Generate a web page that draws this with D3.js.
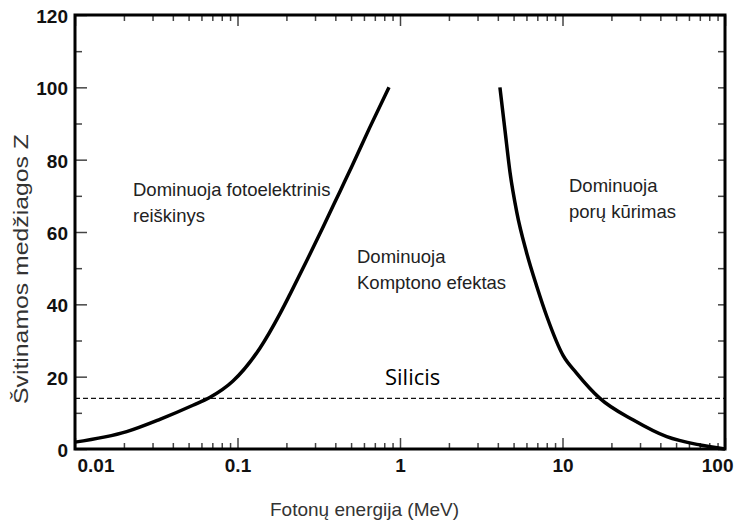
<!DOCTYPE html>
<html lang="lt">

<head>
    <meta charset="UTF-8">
    <title>Fotonų sąveika su medžiaga</title>
    <script src="https://cdn.jsdelivr.net/npm/d3@7"></script>
    <style>
        body { margin: 0; background: #fff; }
    </style>
</head>

<body>
    <div id="my_dataviz"></div>

    <script>
        // boundary: photoelectric effect vs Compton (energy MeV, Z)
        var photoE = [0.01, 0.0208, 0.0333, 0.0532, 0.0678, 0.0938, 0.137, 0.183, 0.211, 0.267, 0.338, 0.428, 0.505, 0.653, 0.855];
        var photoZ = [1.9, 4.8, 8.2, 12.1, 14.3, 18.8, 27.8, 37.5, 42.9, 52.1, 61.6, 71.3, 78.1, 89.0, 100];

        // boundary: Compton vs pair production
        var pairE = [4.12, 4.43, 4.75, 5.23, 6.02, 6.94, 8.0, 10.1, 12.2, 17.0, 27.3, 43.8, 70.2, 100];
        var pairZ = [100, 88.0, 76.6, 65.5, 54.2, 45.0, 36.7, 25.8, 21.0, 14.0, 8.0, 3.4, 1.1, 0];

        var siliconZ = 14;

        var xMajor = [0.01, 0.1, 1, 10, 100];
        var xLabels = ["0.01", "0.1", "1", "10", "100"];
        var yMajor = [0, 20, 40, 60, 80, 100, 120];
        var yMinor = [10, 30, 50, 70, 90, 110];

        var width = 734, height = 525;
        var margin = { top: 15, right: 9, bottom: 76, left: 75 };

        var svg = d3.select("#my_dataviz")
            .append("svg")
            .attr("width", width)
            .attr("height", height)
            .style("font-family", "'Liberation Sans', Arial, sans-serif");

        svg.append("rect")
            .attr("width", width)
            .attr("height", height)
            .attr("fill", "#fff");

        var x = d3.scaleLog()
            .domain([0.01, 100])
            .range([margin.left, width - margin.right]);

        var y = d3.scaleLinear()
            .domain([0, 120])
            .range([height - margin.bottom, margin.top]);

        // minor ticks 2..9 in every decade
        var xMinor = [];
        xMajor.slice(0, -1).forEach(function (d) {
            for (var k = 2; k <= 9; k++) { xMinor.push(d * k); }
        });

        var x0 = x.range()[0], x1 = x.range()[1];
        var y0 = y.range()[0], y1 = y.range()[1];

        function styleTicks(g) {
            g.select(".domain").remove();
            g.selectAll(".tick line").attr("stroke", "#444").attr("stroke-width", 1.5);
        }

        // bottom axis
        svg.append("g")
            .attr("transform", "translate(0," + y0 + ")")
            .call(d3.axisBottom(x).tickValues(xMinor).tickSize(-6).tickFormat(""))
            .call(styleTicks);
        var xAxis = svg.append("g")
            .attr("transform", "translate(0," + y0 + ")")
            .call(d3.axisBottom(x).tickValues(xMajor).tickSize(-11).tickPadding(10)
                .tickFormat(function (d, i) { return xLabels[i]; }))
            .call(styleTicks);
        xAxis.selectAll("text")
            .attr("fill", "#111")
            .style("font-size", "19px")
            .style("font-weight", "bold");
        // keep first and last label inside the picture
        xAxis.selectAll(".tick text")
            .filter(function (d, i) { return i == 0; })
            .attr("text-anchor", "start")
            .attr("x", 2);
        xAxis.selectAll(".tick text")
            .filter(function (d, i) { return i == xMajor.length - 1; })
            .attr("text-anchor", "end")
            .attr("x", 8);

        // top axis
        svg.append("g")
            .attr("transform", "translate(0," + y1 + ")")
            .call(d3.axisTop(x).tickValues(xMinor).tickSize(-6).tickFormat(""))
            .call(styleTicks);
        svg.append("g")
            .attr("transform", "translate(0," + y1 + ")")
            .call(d3.axisTop(x).tickValues(xMajor).tickSize(-11).tickFormat(""))
            .call(styleTicks);

        // left axis
        svg.append("g")
            .attr("transform", "translate(" + x0 + ",0)")
            .call(d3.axisLeft(y).tickValues(yMinor).tickSize(-7).tickFormat(""))
            .call(styleTicks);
        var yAxis = svg.append("g")
            .attr("transform", "translate(" + x0 + ",0)")
            .call(d3.axisLeft(y).tickValues(yMajor).tickSize(-12).tickPadding(7))
            .call(styleTicks);
        yAxis.selectAll("text")
            .attr("fill", "#111")
            .attr("dy", "0.4em")
            .style("font-size", "19px")
            .style("font-weight", "bold");

        // right axis
        svg.append("g")
            .attr("transform", "translate(" + x1 + ",0)")
            .call(d3.axisRight(y).tickValues(yMinor.concat(yMajor)).tickSize(-7).tickFormat(""))
            .call(styleTicks);

        // silicon line
        svg.append("line")
            .attr("x1", x0)
            .attr("x2", x1)
            .attr("y1", y(siliconZ))
            .attr("y2", y(siliconZ))
            .attr("stroke", "#111")
            .attr("stroke-width", 1.3)
            .attr("stroke-dasharray", "5,3");

        var line = d3.line()
            .x(function (d) { return x(d[0]); })
            .y(function (d) { return y(d[1]); })
            .curve(d3.curveMonotoneX);

        svg.append("path")
            .datum(d3.zip(photoE, photoZ))
            .attr("d", line)
            .attr("fill", "none")
            .attr("stroke", "#000")
            .attr("stroke-width", 3.5);

        svg.append("path")
            .datum(d3.zip(pairE, pairZ))
            .attr("d", line)
            .attr("fill", "none")
            .attr("stroke", "#000")
            .attr("stroke-width", 3.5);

        // frame
        svg.append("rect")
            .attr("x", x0)
            .attr("y", y1)
            .attr("width", x1 - x0)
            .attr("height", y0 - y1)
            .attr("fill", "none")
            .attr("stroke", "#000")
            .attr("stroke-width", 3);

        // region labels
        function label(px, py, lines) {
            var t = svg.append("text")
                .attr("x", px)
                .attr("y", py)
                .attr("fill", "#222")
                .style("font-size", "18.5px");
            lines.forEach(function (s, i) {
                t.append("tspan")
                    .attr("x", px)
                    .attr("dy", i == 0 ? 0 : 26)
                    .text(s);
            });
        }
        label(133, 196, ["Dominuoja fotoelektrinis", "reiškinys"]);
        label(357, 263, ["Dominuoja", "Komptono efektas"]);
        label(569, 192, ["Dominuoja", "porų kūrimas"]);

        svg.append("text")
            .attr("x", 385)
            .attr("y", 385)
            .attr("fill", "#000")
            .style("font-family", "'Open Sans', sans-serif")
            .style("font-size", "22px")
            .text("Silicis");

        // axis titles
        svg.append("text")
            .attr("x", 270)
            .attr("y", 516)
            .attr("fill", "#333")
            .style("font-size", "19px")
            .text("Fotonų energija (MeV)");

        svg.append("text")
            .attr("transform", "translate(28,269) rotate(-90)")
            .attr("text-anchor", "middle")
            .attr("fill", "#333")
            .attr("textLength", 270)
            .attr("lengthAdjust", "spacingAndGlyphs")
            .style("font-size", "20px")
            .text("Švitinamos medžiagos Z");
    </script>
</body>

</html>
